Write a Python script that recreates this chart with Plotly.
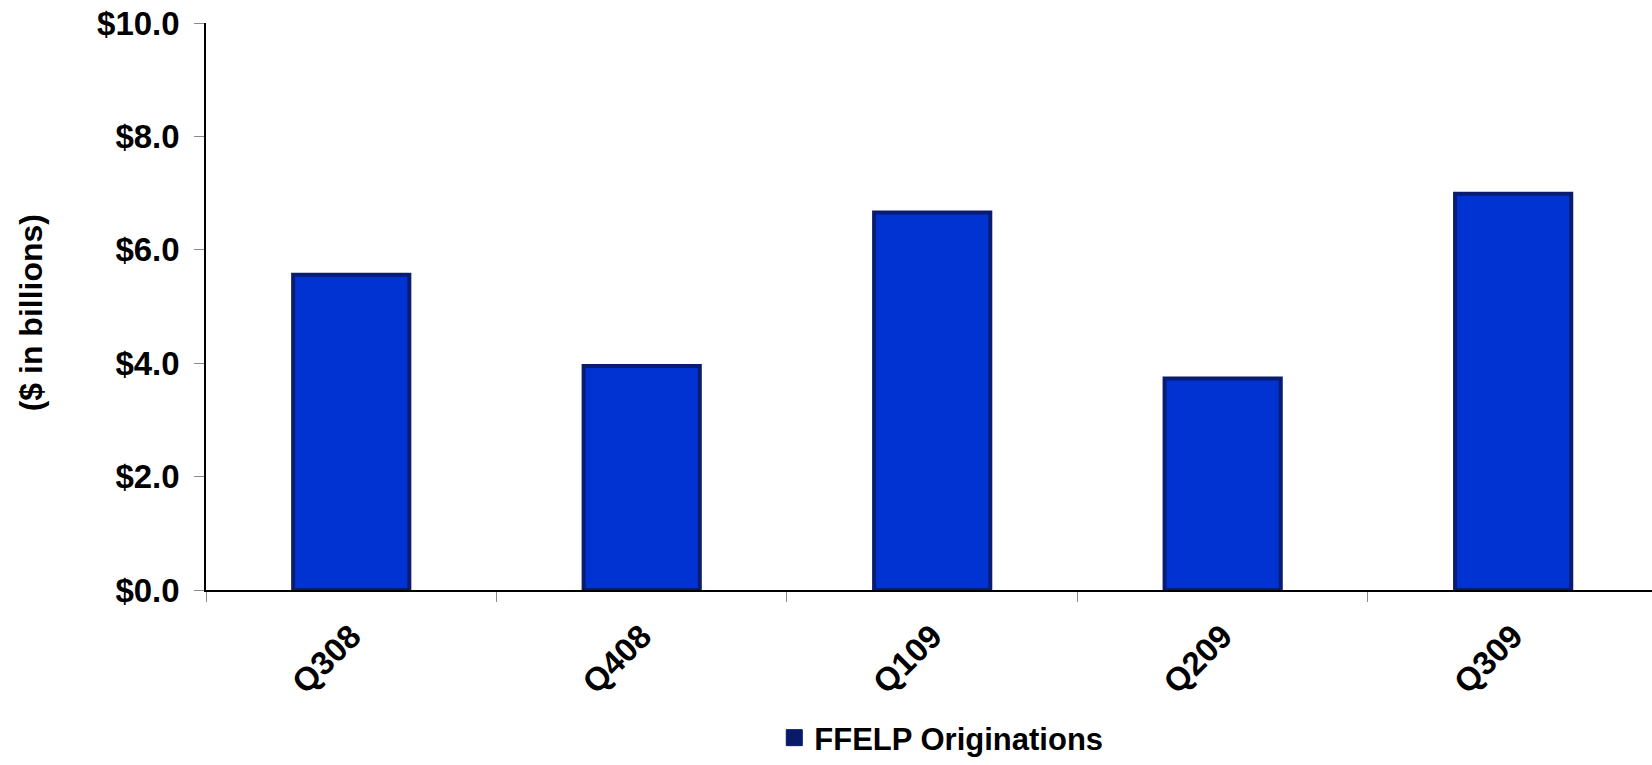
import plotly.graph_objects as go

# Quarterly FFELP originations, $ billions
quarters = ["Q308", "Q408", "Q109", "Q209", "Q309"]
originations = [5.56, 3.95, 6.66, 3.73, 6.99]

y_ticks = [0, 2, 4, 6, 8, 10]
y_tick_labels = ["$0.0", "$2.0", "$4.0", "$6.0", "$8.0", "$10.0"]

FONT = "Liberation Sans, Arial, sans-serif"
BAR_FILL = "#0033d2"
BAR_EDGE = "#0a1c72"
LEGEND_NAVY = "#0a1a6a"

fig = go.Figure()

fig.add_trace(go.Bar(
    x=quarters,
    y=originations,
    width=0.40,
    marker=dict(color=BAR_FILL, line=dict(color=BAR_EDGE, width=4)),
    showlegend=False,
    hoverinfo="x+y",
))

# legend entry only (no drawn points)
fig.add_trace(go.Scatter(
    x=[None], y=[None],
    mode="markers",
    name="FFELP Originations",
    marker=dict(symbol="square", size=16, color=LEGEND_NAVY,
                line=dict(color=LEGEND_NAVY, width=1)),
    showlegend=True,
    hoverinfo="skip",
))

fig.update_layout(
    width=1652,
    height=765,
    margin=dict(l=206, r=0, t=23, b=175, pad=0, autoexpand=False),
    paper_bgcolor="white",
    plot_bgcolor="white",
    font=dict(family=FONT, size=32, color="black", weight="bold"),
    xaxis=dict(
        type="category",
        categoryorder="array",
        categoryarray=quarters,
        range=[-0.5, 4.478],
        showline=True,
        linecolor="black",
        linewidth=1.5,
        ticks="outside",
        tickson="boundaries",
        ticklen=10,
        tickcolor="#8a8a8a",
        tickwidth=1,
        tickangle=-45,
        ticklabelstandoff=12,
        tickfont=dict(family=FONT, size=33, color="black", weight="bold"),
        showgrid=False,
        zeroline=False,
        automargin=False,
        fixedrange=True,
    ),
    yaxis=dict(
        range=[0, 10],
        tickvals=y_ticks,
        ticktext=y_tick_labels,
        showline=True,
        linecolor="black",
        linewidth=1.5,
        ticks="outside",
        ticklen=10,
        tickcolor="#8a8a8a",
        tickwidth=1,
        ticklabelstandoff=8,
        tickfont=dict(family=FONT, size=33, color="black", weight="bold"),
        showgrid=False,
        zeroline=False,
        automargin=False,
        fixedrange=True,
    ),
    legend=dict(
        orientation="h",
        x=0.393,
        xanchor="left",
        yref="container",
        y=0.0,
        yanchor="bottom",
        font=dict(family=FONT, size=31, color="black", weight="bold"),
        itemsizing="trace",
        bgcolor="rgba(0,0,0,0)",
        borderwidth=0,
    ),
    annotations=[
        dict(
            text="($ in billions)",
            xref="paper", yref="paper",
            x=-0.121, y=0.488,
            xanchor="center", yanchor="middle",
            textangle=-90,
            showarrow=False,
            font=dict(family=FONT, size=32, color="black", weight="bold"),
        )
    ],
    bargap=0.6,
)

fig.write_html("out.html")
